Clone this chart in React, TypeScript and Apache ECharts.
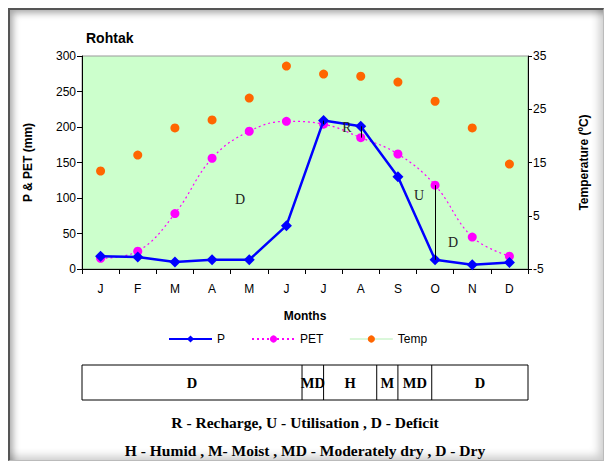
import React, { useEffect, useRef } from "react";
import * as echarts from "echarts";

const months = ["Jan", "Feb", "Mar", "Apr", "May", "Jun", "Jul", "Aug", "Sep", "Oct", "Nov", "Dec"];
const monthLabels = ["J", "F", "M", "A", "M", "J", "J", "A", "S", "O", "N", "D"];
const pValues = [18, 17, 10, 13, 13, 61, 209, 201, 130, 13, 6, 9];
const petValues = [15, 25, 78, 156, 194, 208, 204, 185, 162, 118, 45, 18];
const tempValues = [13.4, 16.4, 21.5, 23, 27.1, 33.1, 31.6, 31.2, 30.1, 26.5, 21.5, 14.7];
const leftAxisRange = [0, 300, 50];
const rightAxisRange = [-5, 35, 10];
// water-balance connectors: month, P value, PET value
const balanceLinks: [string, number, number][] = [
  ["Jul", 209, 204],
  ["Aug", 201, 185],
  ["Oct", 118, 13],
];
// climatic zone table: boundaries in month units and labels
const zoneBounds = [0, 5.92, 6.5, 7.93, 8.5, 9.41, 12];
const zoneLabels = ["D", "MD", "H", "M", "MD", "D"];
const noteLines = [
  "R - Recharge, U - Utilisation , D - Deficit",
  "H - Humid , M- Moist , MD - Moderately dry , D - Dry",
];

export default function App() {
  const ref = useRef<HTMLDivElement>(null);
  useEffect(() => {
    if (!ref.current) return;
    const chart = echarts.init(ref.current, null, { renderer: "svg" });
    const gridLeft = 82;
    const gridRight = 81;
    const gridWidth = 609 - gridLeft - gridRight;
    const serif = "'Liberation Serif', 'Times New Roman', serif";
    const sans = "'Liberation Sans', Arial, sans-serif";

    const tableTop = 365;
    const tableH = 35;
    const tableGraphics: any[] = [];
    tableGraphics.push({
      type: "rect",
      shape: { x: gridLeft, y: tableTop, width: gridWidth, height: tableH },
      style: { fill: "#fff", stroke: "#000", lineWidth: 1 },
    });
    for (let i = 0; i < zoneLabels.length; i++) {
      const x0 = gridLeft + (zoneBounds[i] * gridWidth) / 12;
      const x1 = gridLeft + (zoneBounds[i + 1] * gridWidth) / 12;
      if (i > 0) {
        tableGraphics.push({
          type: "line",
          shape: { x1: x0, y1: tableTop, x2: x0, y2: tableTop + tableH },
          style: { stroke: "#000", lineWidth: 1 },
        });
      }
      tableGraphics.push({
        type: "text",
        x: (x0 + x1) / 2,
        y: tableTop + tableH / 2,
        style: {
          text: zoneLabels[i],
          font: `bold 14.5px ${serif}`,
          fill: "#000",
          align: "center",
          verticalAlign: "middle",
        },
      });
    }
    const notes = noteLines.map((t, i) => ({
      type: "text",
      x: 305,
      y: 422 + i * 28,
      style: { text: t, font: `bold 15.5px ${serif}`, fill: "#000", align: "center", verticalAlign: "middle" },
    }));
    const annot = [
      { t: "R", x: 347, y: 127 },
      { t: "U", x: 419, y: 195 },
      { t: "D", x: 240, y: 199 },
      { t: "D", x: 453, y: 242 },
    ].map((a) => ({
      type: "text",
      x: a.x,
      y: a.y,
      z: 10,
      style: { text: a.t, font: `14px ${serif}`, fill: "#222", align: "center", verticalAlign: "middle" },
    }));

    chart.setOption({
      animation: false,
      backgroundColor: "transparent",
      title: {
        text: "Rohtak",
        left: 81,
        top: 26,
        textStyle: { fontFamily: sans, fontWeight: "bold", fontSize: 14, color: "#000" },
      },
      grid: {
        left: gridLeft,
        right: gridRight,
        top: 56,
        bottom: 463 - 269,
        show: true,
        backgroundColor: "#ccffcc",
        borderColor: "#999",
        borderWidth: 1,
      },
      legend: {
        left: 163,
        top: 328,
        itemWidth: 43,
        itemHeight: 9,
        itemGap: 26,
        textStyle: { fontFamily: sans, fontSize: 12, color: "#000" },
        data: [
          "P",
          "PET",
          { name: "Temp", lineStyle: { color: "#b5f0b5", opacity: 1, width: 1 } },
        ],
      },
      xAxis: {
        type: "category",
        data: months,
        boundaryGap: true,
        name: "Months",
        nameLocation: "middle",
        nameGap: 41,
        nameTextStyle: { fontFamily: sans, fontWeight: "bold", fontSize: 12, color: "#000" },
        axisLine: { lineStyle: { color: "#000", width: 1 } },
        axisTick: { show: true, inside: false, length: 5, alignWithLabel: false, lineStyle: { color: "#000" } },
        axisLabel: {
          margin: 14,
          fontFamily: sans,
          fontSize: 12,
          color: "#000",
          formatter: (_v: string, i: number) => monthLabels[i],
        },
        splitLine: { show: false },
      },
      yAxis: [
        {
          type: "value",
          min: leftAxisRange[0],
          max: leftAxisRange[1],
          interval: leftAxisRange[2],
          name: "P & PET (mm)",
          nameLocation: "middle",
          nameGap: 48,
          nameRotate: 90,
          nameTextStyle: { fontFamily: sans, fontWeight: "bold", fontSize: 12, color: "#000" },
          axisLine: { show: true, lineStyle: { color: "#000", width: 1 } },
          axisTick: { show: true, length: 5, lineStyle: { color: "#000" } },
          axisLabel: { margin: 6, fontFamily: sans, fontSize: 12, color: "#000" },
          splitLine: { show: false },
        },
        {
          type: "value",
          position: "right",
          min: rightAxisRange[0],
          max: rightAxisRange[1],
          interval: rightAxisRange[2],
          name: "Temperature (ºC)",
          nameLocation: "middle",
          nameGap: 50,
          nameRotate: 90,
          nameTextStyle: { fontFamily: sans, fontWeight: "bold", fontSize: 12, color: "#000" },
          axisLine: { show: true, lineStyle: { color: "#000", width: 1 } },
          axisTick: { show: true, length: 4, lineStyle: { color: "#000" } },
          axisLabel: { margin: 5, fontFamily: sans, fontSize: 12, color: "#000" },
          splitLine: { show: false },
        },
      ],
      series: [
        {
          name: "Temp",
          type: "line",
          yAxisIndex: 1,
          data: tempValues,
          symbol: "circle",
          symbolSize: 9,
          itemStyle: { color: "#ff6600" },
          lineStyle: { color: "#ccffcc", width: 1, opacity: 0 },
          z: 2,
        },
        {
          name: "PET",
          type: "line",
          yAxisIndex: 0,
          data: petValues,
          smooth: 0.4,
          symbol: "circle",
          symbolSize: 9,
          itemStyle: { color: "#ff00ff" },
          lineStyle: { color: "#ff00ff", width: 1.2, type: [2, 3] },
          z: 3,
          markLine: {
            silent: true,
            symbol: "none",
            label: { show: false },
            lineStyle: { color: "#000", width: 1, type: "solid" },
            data: balanceLinks.map(([m, a, b]) => [
              { coord: [m, a] },
              { coord: [m, b] },
            ]),
          },
        },
        {
          name: "P",
          type: "line",
          yAxisIndex: 0,
          data: pValues,
          symbol: "diamond",
          symbolSize: 11,
          itemStyle: { color: "#0000ff" },
          lineStyle: { color: "#0000ff", width: 2.5 },
          z: 4,
        },
      ],
      graphic: [...annot, ...tableGraphics, ...notes],
    });
    return () => chart.dispose();
  }, []);

  return (
    <>
      <div
        style={{
          position: "fixed",
          left: 8,
          top: 8,
          width: 596,
          height: 453,
          boxSizing: "border-box",
          borderTop: "2px solid #555",
          borderLeft: "2px solid #555",
          borderRight: "1px solid #bbb",
          borderBottom: "1px solid #bbb",
          boxShadow: "inset 6px 6px 7px -3px rgba(0,0,0,0.35), inset -7px -7px 8px -3px rgba(0,0,0,0.2)",
          background: "#fff",
        }}
      />
      <div ref={ref} style={{ position: "fixed", left: 0, top: 0, width: 609, height: 463 }} />
    </>
  );
}
